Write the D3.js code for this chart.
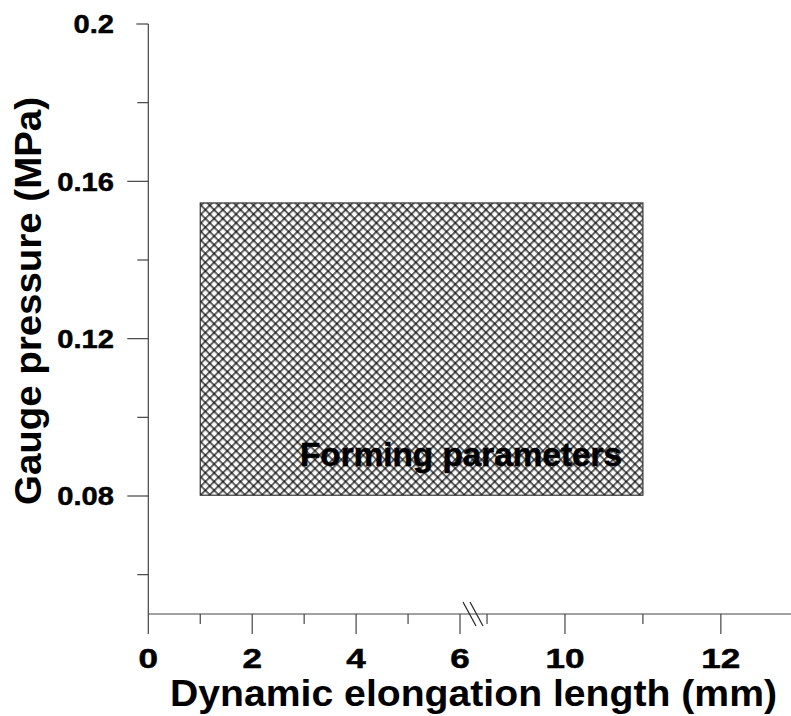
<!DOCTYPE html>
<html>
<head>
<meta charset="utf-8">
<script src="https://cdn.jsdelivr.net/npm/d3@7"></script>
<style>
  html, body { margin: 0; padding: 0; background: #fff; }
  svg { display: block; }
  text { font-family: "Liberation Sans", Arial, sans-serif; font-weight: bold; fill: #000; }
</style>
</head>
<body>
<div id="chart"></div>
<script>
// ---- data ----
const xMajorTicks = [0, 2, 4, 6, 10, 12];
const xMinorTicks = [1, 3, 5, 9, 11];
const yMajorTicks = [0.08, 0.12, 0.16, 0.2];
const yMinorTicks = [0.06, 0.10, 0.14, 0.18];
const yTickLabels = ["0.08", "0.12", "0.16", "0.2"];
const xBreak = [6.25, 8.82];            // broken x-axis gap
const regionX = [1, 11];                // forming region, elongation length (mm)
const regionY = [0.0802, 0.1545];       // forming region, gauge pressure (MPa)
const regionLabel = "Forming parameters";
const xTitle = "Dynamic elongation length (mm)";
const yTitle = "Gauge pressure (MPa)";

// ---- layout ----
const W = 791, H = 716;
const svg = d3.select("#chart").append("svg").attr("width", W).attr("height", H);

const x0 = 148.3, xb = 473, xEnd = 791;
const x = d3.scaleLinear()
  .domain([0, xBreak[0], xBreak[1], 12.9])
  .range([x0, xb, xb, xEnd]);
const y = d3.scaleLinear().domain([0.05, 0.2]).range([614, 24]);

const axisColor = "#444";

// hatch pattern
const defs = svg.append("defs");
const s = 6.2;
const pat = defs.append("pattern")
  .attr("id", "hatch")
  .attr("patternUnits", "userSpaceOnUse")
  .attr("width", s).attr("height", s)
  .attr("patternTransform", "translate(201,204) rotate(45)");
pat.append("rect").attr("width", s).attr("height", s).attr("fill", "#fff");
pat.append("rect").attr("x", 0).attr("y", 0).attr("width", s).attr("height", 2)
  .attr("fill", "#000").attr("fill-opacity", 0.62);
pat.append("rect").attr("x", 0).attr("y", 0).attr("width", 2).attr("height", s)
  .attr("fill", "#000").attr("fill-opacity", 0.62);

// region rect
svg.append("rect")
  .attr("x", x(regionX[0]))
  .attr("y", y(regionY[1]))
  .attr("width", x(regionX[1]) - x(regionX[0]))
  .attr("height", y(regionY[0]) - y(regionY[1]))
  .attr("fill", "url(#hatch)")
  .attr("stroke", "#333").attr("stroke-width", 1.2);

svg.append("text")
  .attr("x", 300).attr("y", 466)
  .attr("font-size", 33)
  .attr("stroke", "#000").attr("stroke-width", 0.6)
  .attr("textLength", 322).attr("lengthAdjust", "spacingAndGlyphs")
  .text(regionLabel);

// axes lines
svg.append("line").attr("x1", x0).attr("x2", x0).attr("y1", y(0.2)).attr("y2", y(0.05))
  .attr("stroke", axisColor).attr("stroke-width", 1.2);
svg.append("line").attr("x1", x0).attr("x2", xEnd).attr("y1", y(0.05)).attr("y2", y(0.05))
  .attr("stroke", axisColor).attr("stroke-width", 1.2);

// y ticks
const yMajorLen = d => d === 0.2 ? 12 : 21;
svg.selectAll(".ymaj").data(yMajorTicks).join("line")
  .attr("x1", d => x0 - yMajorLen(d)).attr("x2", x0)
  .attr("y1", d => y(d)).attr("y2", d => y(d))
  .attr("stroke", axisColor).attr("stroke-width", 1.2);
svg.selectAll(".ymin").data(yMinorTicks).join("line")
  .attr("x1", x0 - 11).attr("x2", x0)
  .attr("y1", d => y(d)).attr("y2", d => y(d))
  .attr("stroke", axisColor).attr("stroke-width", 1.2);
svg.selectAll(".ylab").data(yMajorTicks).join("text")
  .attr("transform", d => `translate(114,${y(d)}) scale(1.12,1)`)
  .attr("dy", "0.36em")
  .attr("text-anchor", "end")
  .attr("font-size", 26)
  .attr("stroke", "#000").attr("stroke-width", 0.5)
  .text((d, i) => yTickLabels[i]);

// x ticks
svg.selectAll(".xmaj").data(xMajorTicks).join("line")
  .attr("x1", d => x(d)).attr("x2", d => x(d))
  .attr("y1", y(0.05)).attr("y2", y(0.05) + 20)
  .attr("stroke", axisColor).attr("stroke-width", 1.2);
svg.selectAll(".xmin").data(xMinorTicks).join("line")
  .attr("x1", d => x(d)).attr("x2", d => x(d))
  .attr("y1", y(0.05)).attr("y2", y(0.05) + 10)
  .attr("stroke", axisColor).attr("stroke-width", 1.2);
svg.selectAll(".xlab").data(xMajorTicks).join("text")
  .attr("transform", d => `translate(${x(d)},668) scale(1.3,1)`)
  .attr("text-anchor", "middle")
  .attr("font-size", 27)
  .attr("stroke", "#000").attr("stroke-width", 0.5)
  .text(d => d);

// break marks
const by = y(0.05);
[-7, 0].forEach(off => {
  svg.append("line")
    .attr("x1", xb - 3 + off).attr("y1", by - 12)
    .attr("x2", xb + 10 + off).attr("y2", by + 12)
    .attr("stroke", "#222").attr("stroke-width", 1.2);
});

// titles
svg.append("text")
  .attr("x", 473.5).attr("y", 706)
  .attr("text-anchor", "middle")
  .attr("font-size", 36)
  .attr("textLength", 607).attr("lengthAdjust", "spacingAndGlyphs")
  .text(xTitle);
svg.append("text")
  .attr("transform", "translate(41,301) rotate(-90)")
  .attr("text-anchor", "middle")
  .attr("font-size", 37)
  .attr("textLength", 408).attr("lengthAdjust", "spacingAndGlyphs")
  .text(yTitle);
</script>
</body>
</html>
